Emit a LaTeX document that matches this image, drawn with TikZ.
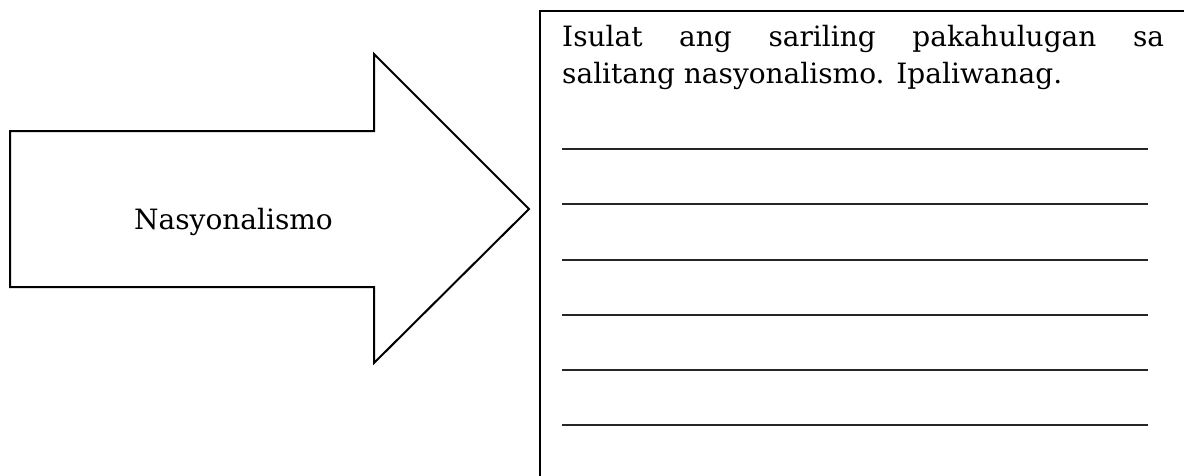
\documentclass[tikz,border=0pt]{standalone}
\usepackage{fontspec}
\setmainfont{DejaVu Serif}
\begin{document}
\begin{tikzpicture}[x=1pt,y=-1pt,
  shapeline/.style={draw=black,line width=2pt,line join=miter},
  boxline/.style={draw=black,line width=2.6pt},
  ruleline/.style={draw=black!85,line width=1.7pt},
  txt/.style={inner sep=0pt,font=\fontsize{28}{34}\selectfont}]
\useasboundingbox (0,0) rectangle (1184,475);
\clip (0,0) rectangle (1184,475);
\fill[white] (0,0) rectangle (1184,475);
% arrow
\draw[shapeline] (10,131) -- (374,131) -- (374,54) -- (529,209) -- (374,363) -- (374,287) -- (10,287) -- cycle;
\node[txt,anchor=base] (arrowtext) at (233.5,229) {Nasyonalismo};
% answer box
\draw[boxline] (540,11) rectangle (1200,490);
\node[txt,anchor=base west] (q1) at (562,46) {\makebox[602pt][s]{Isulat ang sariling pakahulugan sa}};
\node[txt,anchor=base west] (q2) at (562,83) {salitang nasyonalismo. Ipaliwanag.};
\foreach \yy in {149,204,260,315,370,425}
  \draw[ruleline] (562,\yy) -- (1148,\yy);
\end{tikzpicture}
\end{document}
